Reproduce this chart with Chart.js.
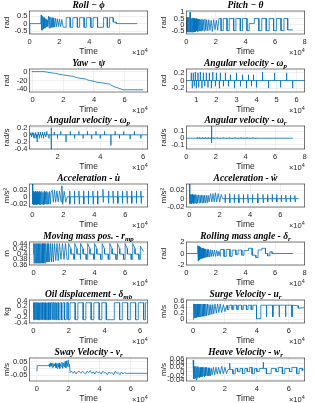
<!DOCTYPE html>
<html>
<head>
<meta charset="utf-8">
<script src="https://cdn.jsdelivr.net/npm/chart.js@4.4.1/dist/chart.umd.min.js"></script>
<style>
  html, body { margin: 0; padding: 0; background: #fff; }
  #fig { position: relative; width: 314px; height: 403px; overflow: hidden; }
  #fig canvas { position: absolute; }
</style>
</head>
<body>
<div id="fig"></div>
<script>
// time is in units of 1e4 (the axes show a x10^4 multiplier)

const rollData = [[0,-0.68],[0.02,0],[0.76,0],
  [0.78,0.58],[0.8,-0.45],[0.82,0.52],[0.84,-0.42],[0.86,0.5],[0.88,-0.38],[0.9,0.46],[0.92,-0.36],[0.94,0.42],[0.96,-0.33],[0.98,0.4],[1.0,-0.3],[1.02,0.36],[1.04,-0.28],[1.06,0.33],[1.08,-0.25],[1.1,0.3],[1.12,-0.22],[1.14,0.28],[1.17,-0.2],[1.2,0.25],[1.23,-0.15],
  [1.27,0.5],[1.31,-0.3],[1.35,0.45],[1.39,-0.28],[1.43,0.42],[1.47,-0.25],[1.52,0.4],[1.57,-0.25],[1.62,0.38],[1.67,-0.22],[1.73,0.35],[1.79,-0.22],[1.86,0.33],[1.93,-0.2],[2.0,0.3],[2.08,-0.2],[2.16,0.28],[2.25,-0.24],
  [2.45,-0.25],[2.45,0.4],[2.72,0.4],[2.72,-0.25],[2.9,-0.25],[2.9,0.4],[3.2,0.4],[3.2,-0.25],[3.35,-0.25],[3.35,0.4],[3.65,0.4],[3.65,-0.25],[3.8,-0.25],[3.8,0.4],[4.1,0.4],[4.1,-0.25],[4.25,-0.25],[4.25,0.4],[4.55,0.4],[4.55,-0.25],[4.95,-0.25],[4.95,0.4],[5.2,0.4],[5.2,-0.25],[5.35,-0.25],[5.35,0.4],[5.6,0.4],[5.6,0.1],[5.8,0.1],[5.8,0],[7.2,0]];

const pitchData = [[0,0],[0.02,0.55],[0.04,-0.55],[0.06,0.6],[0.08,-0.6],[0.1,0.55],[0.12,-0.6],[0.14,0.6],[0.16,-0.55],[0.18,0.6],[0.2,-0.6],[0.22,0.55],[0.25,1.0],[0.27,-0.6],[0.3,0.55],[0.33,-0.6],[0.36,0.5],[0.39,-0.6],[0.42,0.55],[0.45,-0.55],[0.48,0.5],[0.51,-0.6],[0.54,0.5],[0.57,-0.55],[0.6,0.45],[0.63,-0.55],[0.66,0.5],[0.7,-0.5],[0.74,0.45],[0.78,-0.55],[0.82,0.45],[0.86,-0.5],[0.9,0.45],[0.94,-0.5],[0.98,0.4],[1.02,-0.5],[1.06,0.45],[1.1,-0.45],[1.15,0.4],[1.2,-0.5],
  [1.26,0.45],[1.32,-0.45],[1.38,0.4],[1.45,-0.5],[1.52,0.4],[1.6,-0.45],[1.68,0.35],[1.76,-0.55],[1.85,0.4],[1.94,-0.4],[2.03,0.35],[2.12,-0.45],[2.2,0.5],
  [2.35,0.5],[2.35,-0.48],[2.5,-0.48],[2.5,0.5],[2.75,0.5],[2.75,-0.48],[2.9,-0.48],[2.9,0.5],[3.2,0.5],[3.2,-0.48],[3.35,-0.48],[3.35,0.5],[3.65,0.5],[3.65,-0.48],[3.8,-0.48],[3.8,0.5],[4.1,0.5],[4.1,-0.48],[4.25,-0.48],[4.25,0.1],[4.6,0.1],[4.6,0.5],[4.9,0.5],[4.9,-0.48],[5.1,-0.48],[5.1,0.5],[5.4,0.5],[5.4,-0.48],[5.6,-0.48],[5.6,0.5],[5.9,0.5],[5.9,-0.48],[6.1,-0.48],[6.1,0.5],[6.4,0.5],[6.4,-0.48],[6.6,-0.48],[6.6,0.5],[6.85,0.5],[6.85,-0.42],[7.2,-0.42]];

const yawData = [[-0.05,0],[0.75,0],[1.0,-1.5],[1.5,-4],[2.0,-7.5],[2.5,-10],[2.7,-11],[2.8,-13],[3.0,-14.5],[3.5,-17],[3.6,-19],[4.0,-22],[4.2,-24],[4.5,-25],[4.8,-27],[5.0,-28],[5.1,-30],[5.3,-34],[5.5,-36],[5.7,-38.5],[5.9,-41],[7.2,-41]];

const wpSpikesA = [[0.75,0.2],[0.8,-0.2],[0.85,0.2],[0.9,-0.15],[0.95,0.22],[1.0,-0.2],[1.08,0.2],[1.12,-0.18],[1.2,0.22],[1.28,-0.2],[1.35,0.2],[1.42,-0.15],[1.5,0.2],[1.58,-0.18],[1.65,0.2],[1.75,-0.2],[1.82,0.22],[1.95,-0.15],[2.0,0.2],[2.15,-0.2],[2.2,0.2],[2.35,-0.15],[2.45,0.2],[2.6,-0.15],[2.7,0.15],[2.9,-0.2],[3.0,0.2],[3.2,-0.15],[3.3,0.15],[3.5,-0.2],[3.6,0.15],[3.75,-0.15],[3.85,0.15],[4.0,-0.18],[4.3,0.22],[4.6,-0.2],[4.9,0.2],[5.2,-0.18],[5.5,0.2],[5.8,-0.2]];

const wpSpikesB = [[0.75,0.06],[0.78,-0.06],[0.82,0.07],[0.86,-0.08],[0.9,0.06],[0.94,-0.1],[0.98,0.07],[1.02,-0.08],[1.05,-0.2],[1.1,0.08],[1.15,-0.1],[1.2,0.08],[1.25,-0.08],[1.3,0.08],[1.35,-0.1],[1.4,0.08],[1.45,-0.06],[1.5,0.1],[1.6,-0.1],[1.7,0.2],[1.72,-0.4],[1.85,0.08],[2.0,-0.1],[2.15,0.1],[2.4,-0.2],[2.6,0.1],[2.8,-0.1],[3.0,0.1],[3.2,-0.1],[3.4,0.1],[3.6,-0.12],[3.8,0.1],[4.0,-0.1],[4.2,0.1],[4.5,-0.3],[4.7,0.1],[4.9,-0.1],[5.1,0.1],[5.4,-0.12],[5.6,0.1],[5.9,-0.1]];

const wrSpikes = [[0.75,0.01],[0.8,-0.01],[0.9,0.012],[1.0,-0.01],[1.1,0.01],[1.2,-0.012],[1.3,0.01],[1.4,-0.01],[1.5,0.01],[1.6,-0.01],[1.7,0.18],[1.72,-0.07],[1.8,0.01],[1.9,-0.01],[2.1,0.01],[2.3,-0.01],[2.5,0.01],[2.7,-0.01],[2.9,0.01],[3.1,-0.01],[3.3,0.01],[3.5,-0.01],[3.7,0.01],[3.9,-0.01],[4.1,0.01],[4.3,-0.01],[4.5,0.01],[4.7,-0.01]];

const udotData = [[0,0.035],[0.02,-0.02],[0.04,0.015],[0.06,-0.022],[0.08,0.015],[0.1,-0.02],[0.12,0.012],[0.15,-0.022],[0.18,0.015],[0.21,-0.02],[0.24,0.012],[0.27,-0.022],[0.3,0.015],[0.33,-0.02],[0.36,0.012],[0.4,-0.02],[0.44,0.015],[0.48,-0.022],[0.52,0.012],[0.56,-0.02],[0.6,0.015],[0.64,-0.02],[0.68,0.012],[0.72,-0.022],[0.76,0.015],[0.8,-0.02],[0.84,0.012],[0.88,-0.02],[0.92,0.015],[0.96,-0.02],[1.0,0.012],[1.05,-0.02],[1.1,0.015],[1.15,-0.02],[1.2,0.012],
  [1.28,0.018],[1.35,-0.015],[1.42,0.018],[1.5,-0.015],[1.58,0.016],[1.66,-0.014],[1.75,0.016],[1.85,-0.014],[1.9,0.03],[1.95,-0.02],[2.05,0.015],[2.15,-0.015],[2.25,0],
  [2.4,0],[2.4,0.016],[2.42,-0.02],[2.44,0],[2.7,0],[2.7,0.016],[2.72,-0.02],[2.74,0],[3.0,0],[3.0,0.016],[3.02,-0.02],[3.04,0],[3.3,0],[3.3,0.016],[3.32,-0.02],[3.34,0],[3.6,0],[3.6,0.016],[3.62,-0.02],[3.64,0],[3.9,0],[3.9,0.016],[3.92,-0.02],[3.94,0],[4.2,0],[4.2,0.016],[4.22,-0.02],[4.24,0],[4.55,0],[4.55,0.02],[4.57,-0.015],[4.59,0],[4.9,0],[4.9,0.016],[4.92,-0.018],[4.94,0],[5.2,0],[5.2,0.016],[5.22,-0.018],[5.24,0],[5.5,0],[5.5,0.016],[5.52,-0.018],[5.54,0],[5.8,0],[5.8,0.016],[5.82,-0.018],[5.84,0],[6.1,0],[6.1,0.016],[6.12,-0.018],[6.14,0],[6.4,0],[6.4,0.016],[6.42,-0.018],[6.44,0],[6.7,0],[6.7,0.016],[6.72,-0.018],[6.74,0],[7.0,0],[7.0,0.016],[7.02,-0.018],[7.04,0],[7.2,0]];

const wdotData = [[0,0.035],[0.02,-0.012],[0.04,0.01],[0.06,-0.012],[0.08,0.01],[0.11,-0.012],[0.14,0.01],[0.17,-0.012],[0.2,0.01],[0.23,-0.01],[0.26,0.009],[0.3,-0.012],[0.34,0.009],[0.38,-0.01],[0.42,0.01],[0.46,-0.012],[0.5,0.008],[0.55,-0.01],[0.6,0.009],[0.65,-0.01],[0.7,0.008],[0.75,-0.01],[0.8,0.009],[0.85,-0.01],[0.9,0.008],[0.95,-0.01],[1.0,0.008],[1.06,-0.01],[1.12,0.008],[1.18,-0.01],[1.24,0.008],
  [1.3,-0.008],[1.4,0.012],[1.48,-0.008],[1.56,0.012],[1.64,-0.008],[1.72,0.014],[1.8,-0.008],[1.9,0.012],[2.0,-0.008],[2.1,0.01],[2.2,0],
  [2.35,0],[2.35,0.01],[2.37,-0.01],[2.39,0],[2.65,0],[2.65,0.012],[2.67,-0.01],[2.69,0],[2.95,0],[2.95,0.01],[2.97,-0.01],[2.99,0],[3.25,0],[3.25,0.01],[3.27,-0.01],[3.29,0],[3.55,0],[3.55,0.01],[3.57,-0.01],[3.59,0],[3.85,0],[3.85,0.01],[3.87,-0.01],[3.89,0],[4.15,0],[4.15,0.01],[4.17,-0.01],[4.19,0],[4.5,0],[4.5,0.012],[4.52,-0.01],[4.54,0],[4.85,0],[4.85,0.01],[4.87,-0.01],[4.89,0],[5.15,0],[5.15,0.01],[5.17,-0.008],[5.19,0],[5.45,0],[5.45,0.01],[5.47,-0.008],[5.49,0],[5.75,0],[5.75,0.01],[5.77,-0.008],[5.79,0],[6.05,0],[6.05,0.008],[6.07,-0.008],[6.09,0],[6.35,0],[6.35,0.008],[6.37,-0.008],[6.39,0],[6.65,0],[6.65,0.008],[6.67,-0.008],[6.69,0],[6.95,0],[6.95,0.008],[6.97,-0.008],[6.99,0],[7.2,0]];

const rmpData = [[0,0.4],[0.02,0.44],[0.04,0.365],[0.06,0.44],[0.08,0.365],[0.1,0.44],[0.13,0.365],[0.16,0.44],[0.19,0.365],[0.22,0.44],[0.25,0.365],[0.28,0.44],[0.31,0.365],[0.34,0.44],[0.37,0.365],[0.4,0.44],[0.44,0.365],[0.48,0.44],[0.52,0.365],[0.56,0.44],[0.6,0.365],[0.64,0.44],[0.68,0.365],[0.72,0.44],[0.76,0.365],[0.8,0.44],[0.85,0.37],[0.9,0.44],[0.95,0.37],[1.0,0.44],[1.06,0.37],[1.12,0.44],[1.18,0.37],[1.24,0.44],[1.3,0.37],
  [1.38,0.44],[1.46,0.375],[1.54,0.44],[1.62,0.375],[1.7,0.44],[1.8,0.38],[1.9,0.44],[2.0,0.38],[2.1,0.44],[2.2,0.38],
  [2.3,0.38],[2.3,0.44],[2.45,0.42],[2.45,0.4],[2.65,0.4],[2.65,0.38],[2.7,0.38],[2.7,0.44],[2.85,0.42],[2.85,0.4],[3.05,0.4],[3.05,0.38],[3.1,0.38],[3.1,0.44],[3.25,0.42],[3.25,0.4],[3.45,0.4],[3.45,0.38],[3.55,0.38],[3.55,0.44],[3.7,0.42],[3.7,0.4],[3.95,0.4],[3.95,0.38],[4.0,0.38],[4.0,0.44],[4.15,0.42],[4.15,0.4],[4.4,0.4],[4.4,0.38],[4.5,0.38],[4.5,0.44],[4.65,0.42],[4.65,0.4],[4.9,0.4],[4.9,0.38],[5.0,0.38],[5.0,0.44],[5.15,0.42],[5.15,0.4],[5.4,0.4],[5.4,0.38],[5.5,0.38],[5.5,0.44],[5.65,0.42],[5.65,0.4],[5.9,0.4],[5.9,0.38],[6.0,0.38],[6.0,0.44],[6.15,0.42],[6.15,0.4],[6.4,0.4],[6.4,0.38],[6.5,0.38],[6.5,0.44],[6.65,0.42],[6.65,0.4],[6.9,0.4],[6.9,0.38],[7.0,0.38],[7.0,0.43],[7.2,0.41]];

const deltaRData = [[0,0],[0.75,0],[0.78,1.4],[0.8,-1.3],[0.82,1.3],[0.84,-1.2],[0.86,1.25],[0.88,-1.1],[0.9,1.2],[0.92,-1.0],[0.94,1.1],[0.96,-0.95],[0.98,1.0],[1.0,-0.9],[1.03,0.95],[1.06,-0.85],[1.09,0.9],[1.12,-0.8],[1.15,0.85],[1.18,-0.75],[1.22,0.8],[1.26,-0.7],[1.3,0.75],[1.35,-0.65],[1.4,0.7],[1.45,-0.6],[1.5,0.7],[1.56,-0.6],[1.62,0.65],[1.68,-0.55],[1.75,0.6],[1.82,-0.5],[1.9,0.6],[1.98,-0.5],[2.06,0.55],[2.14,-0.45],[2.2,0.4],
  [2.3,-0.5],[2.3,0.7],[2.55,0.7],[2.55,-0.5],[2.7,-0.5],[2.7,0.7],[2.95,0.7],[2.95,-0.5],[3.1,-0.5],[3.1,0.6],[3.35,0.6],[3.35,-0.2],[3.5,-0.2],[3.5,0.6],[3.75,0.6],[3.75,-0.3],[3.9,-0.3],[3.9,0.5],[4.2,0.5],[4.2,0.9],[4.45,0.9],[4.45,-0.3],[4.7,-0.3],[4.7,-0.7],[4.85,-0.7],[4.85,0.6],[5.1,0.6],[5.1,0.9],[5.35,0.9],[5.35,0],[5.5,0],[5.5,-0.4],[5.65,-0.4],[5.65,0.3],[5.8,0.3],[5.8,0],[7.2,0]];

const oilData = [[0,0.32],[0.03,0.32],[0.03,-0.3],[0.06,-0.3],[0.06,0.32],[0.09,0.32],[0.09,-0.3],[0.12,-0.3],[0.12,0.32],[0.15,0.32],[0.15,-0.3],[0.18,-0.3],[0.18,0.32],[0.21,0.32],[0.21,-0.3],[0.24,-0.3],[0.24,0.32],[0.28,0.32],[0.28,-0.3],[0.32,-0.3],[0.32,0.32],[0.36,0.32],[0.36,-0.3],[0.4,-0.3],[0.4,0.32],[0.44,0.32],[0.44,-0.3],[0.48,-0.3],[0.48,0.32],[0.52,0.32],[0.52,-0.3],[0.56,-0.3],[0.56,0.32],[0.6,0.32],[0.6,-0.3],[0.64,-0.3],[0.64,0.32],[0.68,0.32],[0.68,-0.3],[0.72,-0.3],[0.72,0.32],[0.76,0.32],[0.76,-0.3],[0.8,-0.3],[0.8,0.32],[0.85,0.32],[0.85,-0.3],[0.9,-0.3],[0.9,0.32],[0.95,0.32],[0.95,-0.3],[1.0,-0.3],[1.0,0.32],[1.05,0.32],[1.05,-0.3],[1.1,-0.3],[1.1,0.32],[1.16,0.32],[1.16,-0.3],[1.22,-0.3],[1.22,0.32],[1.28,0.32],[1.28,-0.3],[1.35,-0.3],[1.35,0.32],[1.42,0.32],[1.42,-0.3],[1.5,-0.3],[1.5,0.32],[1.58,0.32],[1.58,-0.3],[1.66,-0.3],[1.66,0.32],[1.75,0.32],[1.75,-0.3],[1.85,-0.3],[1.85,0.32],[1.95,0.32],[1.95,-0.3],[2.06,-0.3],[2.06,0.32],
  [2.35,0.32],[2.35,-0.3],[2.5,-0.3],[2.5,0.32],[2.8,0.32],[2.8,-0.3],[2.95,-0.3],[2.95,0.32],[3.25,0.32],[3.25,-0.3],[3.4,-0.3],[3.4,0.32],[3.7,0.32],[3.7,-0.3],[3.85,-0.3],[3.85,0.32],[4.1,0.32],[4.1,-0.3],[4.55,-0.3],[4.55,0.32],[4.85,0.32],[4.85,-0.3],[5.0,-0.3],[5.0,0.32],[5.3,0.32],[5.3,-0.3],[5.45,-0.3],[5.45,0.32],[5.75,0.32],[5.75,-0.3],[5.9,-0.3],[5.9,0.32],[6.2,0.32],[6.2,-0.3],[6.3,-0.3],[6.3,0.32],[6.38,0.32]];

const surgeData = [[0,0],[0.02,0.5],[0.04,0.05],[0.06,0.5],[0.08,0.05],[0.1,0.5],[0.13,0.05],[0.16,0.5],[0.19,0.06],[0.22,0.5],[0.25,0.06],[0.28,0.5],[0.31,0.08],[0.34,0.5],[0.37,0.08],[0.4,0.5],[0.44,0.08],[0.48,0.5],[0.52,0.1],[0.56,0.5],[0.6,0.1],[0.64,0.5],[0.68,0.1],[0.72,0.5],[0.76,0.12],[0.8,0.5],[0.85,0.12],[0.9,0.5],[0.95,0.14],[1.0,0.48],[1.06,0.15],[1.12,0.48],[1.18,0.16],[1.24,0.48],[1.3,0.18],
  [1.38,0.5],[1.46,0.2],[1.54,0.5],[1.62,0.22],[1.7,0.5],[1.8,0.22],[1.9,0.48],[2.0,0.25],[2.1,0.45],
  [2.15,0.45],[2.15,0.32],[2.25,0.32],[2.25,0.46],[2.45,0.46],[2.45,0.32],[2.55,0.32],[2.55,0.46],[2.75,0.46],[2.75,0.32],[2.85,0.32],[2.85,0.46],[3.05,0.46],[3.05,0.32],[3.15,0.32],[3.15,0.46],[3.35,0.46],[3.35,0.32],[3.45,0.32],[3.45,0.46],[3.65,0.46],[3.65,0.32],[3.75,0.32],[3.75,0.46],[3.98,0.46],[3.98,0.02],[4.25,0.02],[4.25,0.46],[4.6,0.46],[4.6,0.08],[4.62,0.46],[5.0,0.46],[5.0,0.08],[5.02,0.46],[5.4,0.46],[5.4,0.08],[5.42,0.46],[5.8,0.46],[5.8,0.08],[5.82,0.46],[6.2,0.46],[6.2,0.08],[6.22,0.46],[6.6,0.44],[6.6,0.36],[6.95,0.38]];

const swayData = [[0,-0.02],[0.03,0.02],[0.74,0.02],[0.78,0.03],[0.82,0.01],[0.86,0.04],[0.9,0.02],[0.94,0.035],[0.98,0.005],[1.02,0.04],[1.06,0.01],[1.1,0.03],[1.14,0.02],[1.18,0.04],[1.22,0.005],[1.26,0.03],[1.3,0.0],[1.34,0.035],[1.38,0.01],[1.42,0.04],[1.46,0.0],[1.5,0.03],[1.55,0.015],[1.6,0.045],[1.65,0.0],[1.7,0.04],[1.75,0.01],[1.8,0.05],[1.85,0.005],[1.9,0.055],[1.95,0.015],[2.0,0.06],[2.05,0.01],[2.08,0.03],[2.12,-0.03],
  [2.2,-0.02],[2.3,-0.035],[2.4,-0.02],[2.5,-0.04],[2.6,-0.025],[2.7,-0.02],[2.8,-0.035],[2.9,-0.02],[3.0,-0.03],[3.1,-0.04],[3.2,-0.02],[3.3,-0.03],[3.4,-0.015],[3.5,-0.035],[3.6,-0.025],[3.7,-0.04],[3.8,-0.02],[3.9,-0.03],[4.0,-0.025],[4.1,-0.04],[4.2,-0.02],[4.3,-0.03],[4.4,-0.03],[4.5,-0.045],[4.6,-0.025],[4.7,-0.035],[4.8,-0.03],[4.9,-0.045],[5.0,-0.02],[5.1,-0.035],[5.2,-0.03],[5.3,-0.045],[5.4,-0.025],[5.5,-0.04],[5.6,-0.03],[5.7,-0.035],[7.07,-0.035]];

const heaveData = [[0,0.055],[0.02,-0.035],[0.04,0.03],[0.06,-0.03],[0.08,0.025],[0.1,-0.035],[0.12,0.02],[0.15,-0.03],[0.18,0.025],[0.21,-0.04],[0.24,0.02],[0.27,-0.03],[0.3,0.025],[0.33,-0.025],[0.36,0.02],[0.4,-0.03],[0.44,0.02],[0.48,-0.025],[0.52,0.02],[0.56,-0.025],[0.6,0.02],[0.64,-0.02],[0.68,0.02],[0.72,-0.025],[0.76,0.02],[0.8,-0.02],[0.85,0.02],[0.9,-0.02],[0.95,0.018],[1.0,-0.02],[1.05,0.018],[1.1,-0.02],[1.15,0.015],[1.2,-0.015],
  [1.28,0.02],[1.36,-0.015],[1.44,0.02],[1.52,-0.012],[1.6,0.02],[1.7,-0.012],[1.8,0.025],[1.9,-0.01],[2.0,0.02],[2.1,-0.01],[2.2,0.01],
  [2.3,0.01],[2.3,0.04],[2.32,0.01],[2.5,0.01],[2.5,-0.01],[2.65,-0.01],[2.65,0.015],[2.8,0.015],[2.8,0.0],[2.95,0.0],[2.95,0.015],[3.1,0.015],[3.1,-0.01],[3.25,-0.01],[3.25,0.015],[3.4,0.015],[3.4,0.0],[3.55,0.0],[3.55,0.02],[3.7,0.02],[3.7,-0.01],[3.85,-0.01],[3.85,0.015],[4.0,0.015],[4.0,0.0],[4.15,0.0],[4.15,0.015],[4.4,0.015],[4.4,0.045],[4.42,0.015],[4.6,0.015],[4.6,-0.01],[4.9,-0.01],[4.9,0.015],[5.2,0.015],[5.2,0.0],[5.35,0.0],[5.35,0.02],[5.6,0.02],[5.6,-0.01],[5.75,-0.01],[5.75,0.015],[6.05,0.015],[6.05,0.0],[6.2,0.0],[6.2,0.02],[6.5,0.02],[6.5,-0.01],[6.65,-0.01],[6.65,0.015],[6.85,0.015],[6.85,0.005],[6.95,0.01]];

// tick labels
const xTicksA = [0, 2, 4, 6];
const xTicksB = [0, 2, 4, 6, 8];
const xTicksWp = [1, 2, 3, 4, 5, 6];

// figure layout (pixels)
const ROW_TOP = [11, 68.5, 126, 184, 242, 300, 358];
const BOX_H = 22.5;
const COL_LEFT = [0, 157];
const BOX_L = [29.5, 186.3];
const BOX_R = [147.7, 304.7];

function spikes(list, t0, t1) {
  const pts = [[t0, 0]];
  list.forEach(([t, h]) => { pts.push([t, 0], [t, h], [t, 0]); });
  pts.push([t1, 0]);
  return pts;
}

const panels = [
  { title: 'Roll − ϕ', ylab: 'rad', data: rollData, x: [0, 7.9], xt: xTicksA, y: [-0.7, 0.85], yt: [-0.5, 0, 0.5] },
  { title: 'Pitch − θ', ylab: 'rad', data: pitchData, x: [0, 8], xt: xTicksB, y: [-0.75, 1.1], yt: [-0.5, 0, 0.5, 1] },
  { title: 'Yaw − ψ', ylab: 'rad', data: yawData, x: [-0.2, 7.5], xt: xTicksA, y: [-46, 6], yt: [-40, -20, 0] },
  { title: 'Angular velocity - ω_p', ylab: 'rad', data: spikes(wpSpikesA, 0.5, 6.4), x: [0.5, 6.4], xt: xTicksWp, y: [-0.3, 0.3], yt: [-0.2, 0, 0.2] },
  { title: 'Angular velocity - ω_p', ylab: 'rad/s', data: spikes(wpSpikesB, 0.69, 6.2), x: [0.69, 6.22], xt: [2, 4, 6], y: [-0.4, 0.25], yt: [-0.4, -0.2, 0, 0.2] },
  { title: 'Angular velocity - ω_r', ylab: 'rad/s', data: spikes(wrSpikes, 0, 7.2), x: [0, 8], xt: xTicksB, y: [-0.16, 0.18], yt: [-0.1, 0, 0.1] },
  { title: 'Acceleration - u̇', ylab: 'm/s²', data: udotData, x: [-0.19, 7.44], xt: xTicksA, y: [-0.028, 0.035], yt: [-0.02, 0, 0.02] },
  { title: 'Acceleration - ẇ', ylab: 'm/s²', data: wdotData, x: [-0.2, 7.6], xt: xTicksA, y: [-0.02, 0.035], yt: [-0.02, 0, 0.02] },
  { title: 'Moving mass pos. - r_mp', ylab: 'm', data: rmpData, x: [-0.26, 7.48], xt: xTicksA, y: [0.358, 0.446], yt: [0.36, 0.38, 0.4, 0.42, 0.44] },
  { title: 'Rolling mass angle - δ_r', ylab: 'rad', data: deltaRData, x: [0, 8], xt: xTicksB, y: [-2, 2], yt: [-2, 0, 2] },
  { title: 'Oil displacement - δ_mb', ylab: 'kg', data: oilData, x: [-0.22, 6.43], xt: xTicksA, y: [-0.42, 0.42], yt: [-0.4, -0.2, 0, 0.2, 0.4] },
  { title: 'Surge Velocity - u_r', ylab: 'm/s', data: surgeData, x: [-0.42, 7.0], xt: xTicksA, y: [-0.12, 0.63], yt: [0, 0.2, 0.4, 0.6] },
  { title: 'Sway Velocity - v_r', ylab: 'm/s', data: swayData, x: [-0.47, 7.07], xt: xTicksA, y: [-0.09, 0.075], yt: [-0.05, 0, 0.05] },
  { title: 'Heave Velocity - w_r', ylab: 'm/s', data: heaveData, x: [-0.42, 7.0], xt: xTicksA, y: [-0.045, 0.065], yt: [-0.04, -0.02, 0, 0.02, 0.04, 0.06] },
];

const INK = '#262626';
const SANS = '"Liberation Sans", Arial, sans-serif';
const SERIF = '"Liberation Serif", "Times New Roman", serif';

function drawTitle(ctx, text, cx, cy) {
  const [main, sub] = text.split('_');
  const f1 = 'bold italic 9.5px ' + SERIF;
  const f2 = 'bold italic 7px ' + SERIF;
  ctx.font = f1;
  const w1 = ctx.measureText(main).width;
  ctx.font = f2;
  const w2 = sub ? ctx.measureText(sub).width : 0;
  const x0 = cx - (w1 + w2) / 2;
  ctx.fillStyle = '#000';
  ctx.textBaseline = 'alphabetic';
  ctx.textAlign = 'left';
  ctx.font = f1;
  ctx.fillText(main, x0, cy + 3);
  if (sub) { ctx.font = f2; ctx.fillText(sub, x0 + w1, cy + 5); }
}

const decor = {
  id: 'decor',
  afterDraw(chart, args, opts) {
    const { ctx, chartArea: a } = chart;
    ctx.save();
    ctx.strokeStyle = INK;
    ctx.lineWidth = 0.6;
    ctx.strokeRect(a.left, a.top, a.right - a.left, a.bottom - a.top);
    drawTitle(ctx, opts.title, (a.left + a.right) / 2, a.top - 6);
    ctx.fillStyle = INK;
    ctx.textAlign = 'right';
    ctx.textBaseline = 'middle';
    ctx.font = '5.5px ' + SANS;
    const w4 = ctx.measureText('4').width;
    ctx.fillText('4', a.right, a.bottom + 16);
    ctx.font = '7.5px ' + SANS;
    ctx.fillText('×10', a.right - w4, a.bottom + 18.5);
    ctx.restore();
  }
};

const fig = document.getElementById('fig');

panels.forEach((p, i) => {
  const row = Math.floor(i / 2), col = i % 2;
  const top = ROW_TOP[row] - 11;
  const h = 11 + BOX_H + 23;
  const cv = document.createElement('canvas');
  cv.width = 157; cv.height = Math.round(h);
  cv.style.left = COL_LEFT[col] + 'px';
  cv.style.top = top + 'px';
  cv.style.width = '157px';
  cv.style.height = Math.round(h) + 'px';
  fig.appendChild(cv);

  const yW = BOX_L[col] - COL_LEFT[col];
  new Chart(cv, {
    type: 'line',
    data: {
      datasets: [{
        data: p.data.map(([x, y]) => ({ x, y })),
        borderColor: '#0072BD',
        borderWidth: 0.8,
        pointRadius: 0,
        tension: 0,
        fill: false,
      }]
    },
    options: {
      animation: false,
      responsive: false,
      devicePixelRatio: 1,
      events: [],
      layout: { padding: { top: 11, left: 0, bottom: h - 11 - BOX_H - 23, right: COL_LEFT[col] + 157 - BOX_R[col] } },
      plugins: { legend: { display: false }, tooltip: { enabled: false }, decor: { title: p.title } },
      scales: {
        x: {
          type: 'linear', min: p.x[0], max: p.x[1],
          afterBuildTicks: s => { s.ticks = p.xt.map(v => ({ value: v })); },
          afterFit: s => { s.height = 23; s.paddingLeft = 0; s.paddingRight = 0; },
          ticks: { font: { size: 7.5, family: SANS }, color: INK, padding: 3, maxRotation: 0, autoSkip: false, callback: v => String(v) },
          grid: { color: '#e6e6e6', lineWidth: 0.6, drawTicks: false },
          border: { display: false },
          title: { display: true, text: 'Time', font: { size: 8.5, family: SANS }, color: INK, padding: { top: 0, bottom: 0 } }
        },
        y: {
          type: 'linear', min: p.y[0], max: p.y[1],
          afterBuildTicks: s => { s.ticks = p.yt.map(v => ({ value: v })); },
          afterFit: s => { s.width = yW; s.paddingTop = 0; s.paddingBottom = 0; },
          ticks: { font: { size: 7.5, family: SANS }, color: INK, padding: 2, autoSkip: false, callback: v => String(v) },
          grid: { color: '#e6e6e6', lineWidth: 0.6, drawTicks: false },
          border: { display: false },
          title: { display: true, text: p.ylab, font: { size: 8, family: SANS }, color: INK, padding: { top: 2, bottom: 0 } }
        }
      }
    },
    plugins: [decor]
  });
});
</script>
</body>
</html>
